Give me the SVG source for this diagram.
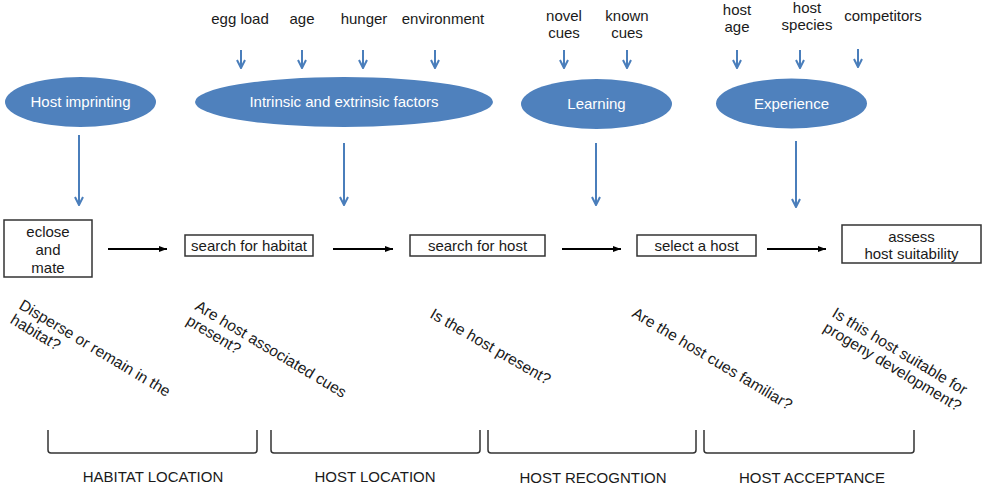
<svg xmlns="http://www.w3.org/2000/svg" width="988" height="490" viewBox="0 0 988 490">
<defs>
<marker id="bh" markerWidth="10" markerHeight="10" viewBox="0 0 10 10" refX="9" refY="5" orient="auto" markerUnits="userSpaceOnUse">
<path d="M1,1 L9,5 L1,9" fill="none" stroke="#4a7ebb" stroke-width="2"/>
</marker>
<marker id="kh" markerWidth="8" markerHeight="8" viewBox="0 0 8 8" refX="8" refY="4" orient="auto" markerUnits="userSpaceOnUse">
<path d="M0,1 L8,4 L0,7 Z" fill="#000"/>
</marker>
</defs>
<style>
text{font-family:"Liberation Sans",Arial,sans-serif;fill:#1a1a1a;font-size:15px}
.ell{fill:#4f81bd}
.et{fill:#fff;font-size:15px;text-anchor:middle}
.c{text-anchor:middle}
.box{fill:#fff;stroke:#333;stroke-width:1.5}
.ba{stroke:#4a7ebb;stroke-width:2;fill:none;marker-end:url(#bh)}
.ka{stroke:#000;stroke-width:2;fill:none;marker-end:url(#kh)}
.br{stroke:#333;stroke-width:1.5;fill:none}
.q{font-size:15.5px}
.lab{text-anchor:middle;font-size:15px}
</style>

<g id="factor-labels">
<text class="c" x="240" y="24">egg load</text>
<text class="c" x="302" y="24">age</text>
<text class="c" x="364" y="24">hunger</text>
<text class="c" x="443" y="24">environment</text>
<text class="c" x="564" y="21">novel<tspan x="564" dy="17">cues</tspan></text>
<text class="c" x="627" y="21">known<tspan x="627" dy="17">cues</tspan></text>
<text class="c" x="737" y="15">host<tspan x="737" dy="17">age</tspan></text>
<text class="c" x="807" y="13">host<tspan x="807" dy="17">species</tspan></text>
<text class="c" x="883" y="21">competitors</text>
</g>

<g id="host-imprinting">
<ellipse class="ell" cx="80.5" cy="102" rx="75.5" ry="25"/>
<text class="et" x="80.5" y="107">Host imprinting</text>
</g>
<g id="intrinsic-extrinsic">
<ellipse class="ell" cx="344" cy="102" rx="149" ry="25"/>
<text class="et" x="344" y="107">Intrinsic and extrinsic factors</text>
</g>
<g id="learning">
<ellipse class="ell" cx="596.5" cy="104" rx="75.5" ry="25"/>
<text class="et" x="596.5" y="109">Learning</text>
</g>
<g id="experience">
<ellipse class="ell" cx="791.5" cy="103.5" rx="75.5" ry="25"/>
<text class="et" x="791.5" y="108.5">Experience</text>
</g>

<g id="eclose">
<rect class="box" x="4" y="220" width="88" height="57"/>
<text class="c" x="48" y="237">eclose<tspan x="48" dy="18">and</tspan><tspan x="48" dy="18">mate</tspan></text>
</g>
<g id="search-habitat">
<rect class="box" x="185" y="235" width="128" height="21"/>
<text class="c" x="249" y="251">search for habitat</text>
</g>
<g id="search-host">
<rect class="box" x="410" y="235" width="135" height="21"/>
<text class="c" x="477.5" y="251">search for host</text>
</g>
<g id="select-host">
<rect class="box" x="637" y="235" width="119" height="21"/>
<text class="c" x="696.5" y="251">select a host</text>
</g>
<g id="assess">
<rect class="box" x="842" y="225" width="139" height="38"/>
<text class="c" x="911.5" y="242">assess<tspan x="911.5" dy="17">host suitability</tspan></text>
</g>

<g id="connectors">
<line class="ba" x1="241" y1="50" x2="241" y2="68"/>
<line class="ba" x1="302" y1="50" x2="302" y2="68"/>
<line class="ba" x1="363" y1="50" x2="363" y2="68"/>
<line class="ba" x1="435" y1="50" x2="435" y2="68"/>
<line class="ba" x1="564" y1="50" x2="564" y2="68"/>
<line class="ba" x1="627" y1="50" x2="627" y2="68"/>
<line class="ba" x1="737" y1="50" x2="737" y2="68"/>
<line class="ba" x1="800" y1="50" x2="800" y2="68"/>
<line class="ba" x1="858" y1="49" x2="858" y2="67"/>
<line class="ba" x1="79" y1="135" x2="79" y2="205"/>
<line class="ba" x1="344" y1="143" x2="344" y2="205"/>
<line class="ba" x1="596" y1="143" x2="596" y2="205"/>
<line class="ba" x1="796" y1="141" x2="796" y2="207"/>
<line class="ka" x1="108" y1="249" x2="167" y2="249"/>
<line class="ka" x1="333" y1="249" x2="393" y2="249"/>
<line class="ka" x1="562" y1="249" x2="621" y2="249"/>
<line class="ka" x1="767" y1="249" x2="826" y2="249"/>
</g>

<g id="questions">
<text class="q" transform="translate(18,308) rotate(31)">Disperse or remain in the<tspan x="0" dy="17">habitat?</tspan></text>
<text class="q" transform="translate(194,309) rotate(31)">Are host associated cues<tspan x="0" dy="17">present?</tspan></text>
<text class="q" transform="translate(429,317) rotate(30)">Is the host present?</text>
<text class="q" transform="translate(631,316) rotate(31)">Are the host cues familiar?</text>
<text class="q" transform="translate(831,316) rotate(31)">Is this host suitable for<tspan x="0" dy="17">progeny development?</tspan></text>
</g>

<g id="brackets">
<path class="br" d="M48,430 V450 Q48,453 51,453 H254 Q257,453 257,450 V430"/>
<path class="br" d="M271,430 V450 Q271,453 274,453 H477 Q480,453 480,450 V430"/>
<path class="br" d="M488,430 V450 Q488,453 491,453 H693 Q696,453 696,450 V430"/>
<path class="br" d="M704,430 V450 Q704,453 707,453 H911 Q914,453 914,450 V430"/>
<text class="lab" x="153" y="482">HABITAT LOCATION</text>
<text class="lab" x="375" y="482">HOST LOCATION</text>
<text class="lab" x="593" y="483">HOST RECOGNTION</text>
<text class="lab" x="812" y="483">HOST ACCEPTANCE</text>
</g>
</svg>
